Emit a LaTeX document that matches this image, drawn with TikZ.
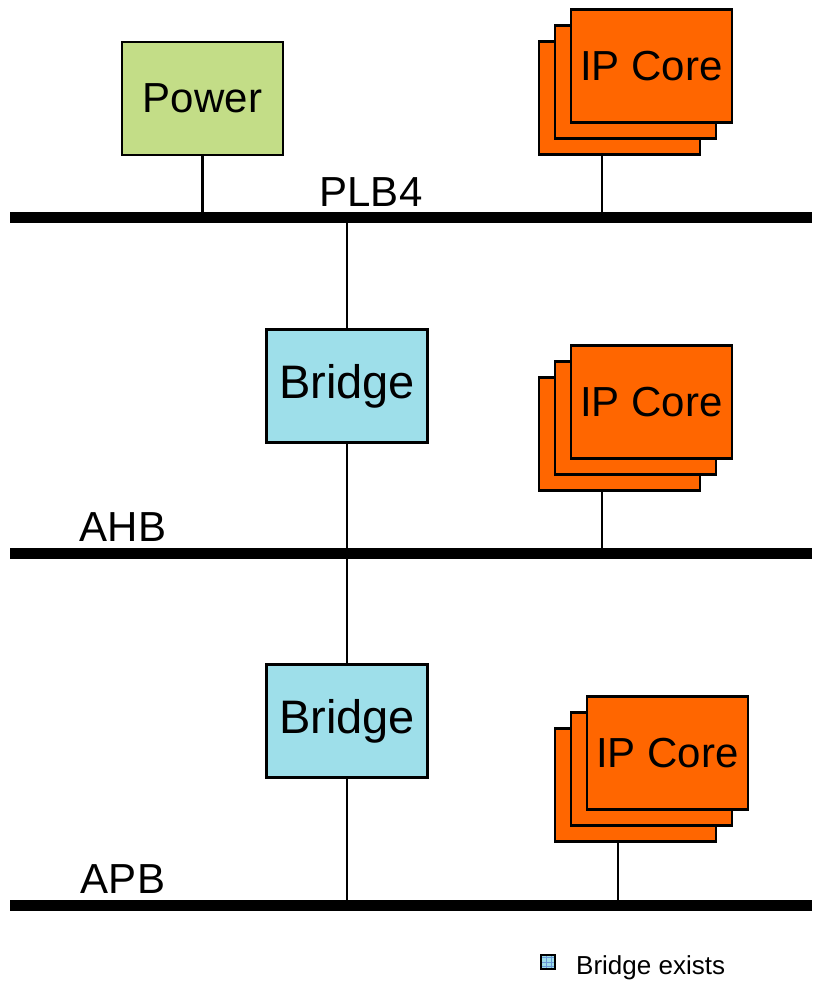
\documentclass[tikz,border=0pt]{standalone}
\usepackage{fontspec}
\setmainfont{Liberation Sans}
\definecolor{pwrgreen}{HTML}{C3DD87}
\definecolor{brgblue}{HTML}{9EDFEA}
\definecolor{ipOrange}{HTML}{FF6600}
\begin{document}
\begin{tikzpicture}[x=1pt,y=-1pt]
  \tikzstyle{boite}=[draw=black, line width=2.2pt, minimum width=161pt,
  minimum height=113pt, inner sep=0pt, text=black,
  font=\fontsize{42}{50}\selectfont]
  \tikzstyle{bridge}=[boite, fill=brgblue, font=\fontsize{47}{56}\selectfont]
  \tikzstyle{ipcore}=[boite, fill=ipOrange]
  \tikzstyle{bus}=[line width=11pt]
  \tikzstyle{tige}=[line width=2.2pt]
  \tikzstyle{nom}=[anchor=base, inner sep=0pt, font=\fontsize{42}{50}\selectfont]
  \useasboundingbox (0,0) rectangle (817,982);
  % the three buses
  \coordinate (plbL) at (10,217); \coordinate (plbR) at (812,217);
  \coordinate (ahbL) at (10,553); \coordinate (ahbR) at (812,553);
  \coordinate (apbL) at (10,905); \coordinate (apbR) at (812,905);
  % boxes
  \node[boite, fill=pwrgreen] (power) at (202.5,98.5) {Power};
  \node[bridge] (bridgeA) at (347,386) {Bridge};
  \node[bridge] (bridgeB) at (347,721) {Bridge};
  \foreach \s/\x/\y in {ipA/651.5/66,ipB/651.5/402,ipC/667.5/753} {
    \node[ipcore] (\s back) at (\x-32,\y+32) {};
    \node[ipcore] (\s mid) at (\x-16,\y+16) {};
    \node[ipcore] (\s) at (\x,\y) {IP Core};
    \coordinate (\s stem) at ([xshift=64pt]\s back.south west);
  }
  % connections
  \draw[tige] (power.south) -- (power.south |- plbL);
  \draw[tige] (ipAstem) -- (ipAstem |- plbL);
  \draw[tige] (ipBstem) -- (ipBstem |- ahbL);
  \draw[tige] (ipCstem) -- (ipCstem |- apbL);
  \draw[tige] (bridgeA.north |- plbL) -- (bridgeA.north);
  \draw[tige] (bridgeA.south) -- (bridgeB.north);
  \draw[tige] (bridgeB.south) -- (bridgeB.south |- apbL);
  \foreach \b in {plb,ahb,apb} {
    \draw[bus] (\b L) -- (\b R);
  }
  \node[nom] (plbName) at (371,206) {PLB4};
  \node[nom] (ahbName) at (123,541) {AHB};
  \node[nom] (apbName) at (123,893) {APB};
  % legend
  \fill[brgblue] (541,955) rectangle (555,969);
  \draw[cyan!50!blue!60, line width=0.5pt, step=4.67pt] (541,955) grid (555,969);
  \draw[line width=2.8pt] (541,955) rectangle (555,969);
  \node[anchor=base west, inner sep=0pt, font=\fontsize{26}{30}\selectfont]
    (legText) at (576,974) {Bridge exists};
\end{tikzpicture}
\end{document}
